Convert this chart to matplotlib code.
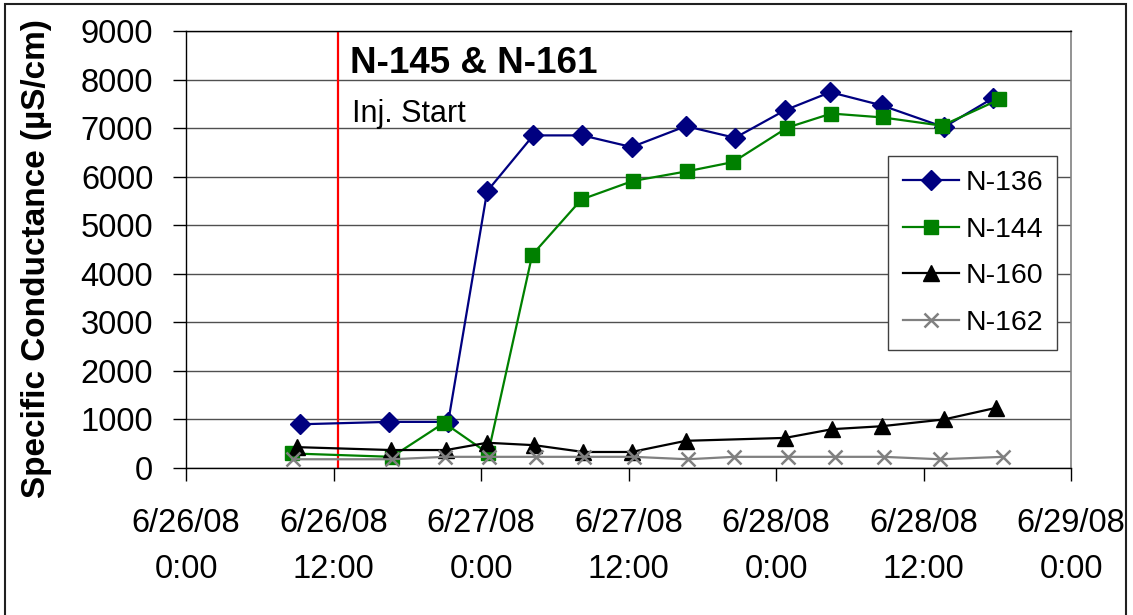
import matplotlib
matplotlib.use("Agg")
import matplotlib.pyplot as plt
import matplotlib.dates as mdates
from matplotlib.ticker import FuncFormatter, MultipleLocator
from matplotlib.patches import Rectangle
import pandas as pd

plt.rcParams['font.family'] = ['Liberation Sans', 'DejaVu Sans']

# ---- data ----
n136_times = ["2008-06-26 09:15", "2008-06-26 16:30", "2008-06-26 21:20", "2008-06-27 00:30",
              "2008-06-27 04:15", "2008-06-27 08:15", "2008-06-27 12:15", "2008-06-27 16:40",
              "2008-06-27 20:40", "2008-06-28 00:45", "2008-06-28 04:25", "2008-06-28 08:35",
              "2008-06-28 13:40", "2008-06-28 17:40"]
n136_vals = [900, 950, 950, 5700, 6850, 6850, 6610, 7040, 6800, 7370, 7740, 7470, 7020, 7620]

n144_times = ["2008-06-26 08:35", "2008-06-26 16:45", "2008-06-26 21:00", "2008-06-27 00:35",
              "2008-06-27 04:10", "2008-06-27 08:10", "2008-06-27 12:20", "2008-06-27 16:45",
              "2008-06-27 20:30", "2008-06-28 00:55", "2008-06-28 04:30", "2008-06-28 08:40",
              "2008-06-28 13:30", "2008-06-28 18:10"]
n144_vals = [300, 230, 930, 300, 4390, 5530, 5910, 6110, 6300, 7010, 7300, 7220, 7050, 7590]

n160_times = ["2008-06-26 09:00", "2008-06-26 16:40", "2008-06-26 21:10", "2008-06-27 00:30",
              "2008-06-27 04:20", "2008-06-27 08:20", "2008-06-27 12:15", "2008-06-27 16:40",
              "2008-06-28 00:45", "2008-06-28 04:35", "2008-06-28 08:35", "2008-06-28 13:40",
              "2008-06-28 17:55"]
n160_vals = [430, 370, 370, 520, 470, 330, 330, 560, 620, 800, 860, 1000, 1240]

n162_times = ["2008-06-26 08:40", "2008-06-26 16:45", "2008-06-26 21:05", "2008-06-27 00:40",
              "2008-06-27 04:30", "2008-06-27 08:25", "2008-06-27 12:25", "2008-06-27 16:50",
              "2008-06-27 20:35", "2008-06-28 01:00", "2008-06-28 04:50", "2008-06-28 08:45",
              "2008-06-28 13:20", "2008-06-28 18:30"]
n162_vals = [180, 180, 230, 230, 230, 230, 230, 180, 230, 230, 230, 230, 180, 230]

injection_start = "2008-06-26 12:20"
x_start, x_end = "2008-06-26 00:00", "2008-06-29 00:00"
title_text = "N-145 & N-161"
inj_text = "Inj. Start"
y_label = "Specific Conductance (µS/cm)"

# ---- figure ----
fig = plt.figure(figsize=(11.33, 6.15), dpi=100)
ax = fig.add_axes([186/1133, 1-468/615, (1071-186)/1133, (468-31)/615])

series = [
    ("N-136", n136_times, n136_vals, dict(color='#000080', marker='D', ms=10.5)),
    ("N-144", n144_times, n144_vals, dict(color='#008000', marker='s', ms=10.5)),
    ("N-160", n160_times, n160_vals, dict(color='#000000', marker='^', ms=11.5)),
    ("N-162", n162_times, n162_vals, dict(color='#808080', marker='x', ms=10.5, mew=1.8)),
]
for name, t, v, st in series:
    ax.plot(pd.to_datetime(t), v, label=name, lw=1.6, zorder=3, clip_on=False, **st)

ax.axvline(pd.to_datetime(injection_start), color='#ff0000', lw=1.6, zorder=2)

ax.set_xlim(pd.to_datetime(x_start), pd.to_datetime(x_end))
ax.set_ylim(0, 9000)
ax.yaxis.set_major_locator(MultipleLocator(1000))
ax.xaxis.set_major_locator(mdates.HourLocator(byhour=[0, 12]))

def fmt(x, pos):
    d = mdates.num2date(x)
    return f"{d.month}/{d.day}/{d.strftime('%y')}\n{d.hour}:{d.minute:02d}"
ax.xaxis.set_major_formatter(FuncFormatter(fmt))

ax.grid(axis='y', color='#505050', lw=1, zorder=1)
ax.set_axisbelow(True)
ax.tick_params(axis='both', direction='out', length=9.5, width=1, labelsize=23.5, color='#000000')
ax.tick_params(axis='x', pad=19)
ax.tick_params(axis='y', pad=14)
for lab in ax.get_xticklabels():
    lab.set_linespacing(1.65)

for s in ['left', 'bottom', 'top']:
    ax.spines[s].set_color('#000000')
    ax.spines[s].set_linewidth(1)
ax.spines['right'].set_color('#808080')
ax.spines['right'].set_linewidth(1.2)

fig.text(37/1133, 1-259/615, y_label, rotation=90, ha='center', va='center',
         fontsize=24, fontweight='bold')
fig.text(350/1133, 1-73/615, title_text, ha='left', va='baseline', fontsize=26.5, fontweight='bold')
fig.text(352/1133, 1-122/615, inj_text, ha='left', va='baseline', fontsize=22)

leg = ax.legend(loc='upper right', bbox_to_anchor=(1057/1133, 1-156/615),
                bbox_transform=fig.transFigure, borderaxespad=0, fontsize=20.5,
                frameon=True, fancybox=False, edgecolor='#404040', framealpha=1,
                handlelength=2.0, labelspacing=0.72, borderpad=0.5, handletextpad=0.2)
leg.get_frame().set_linewidth(1)

fig.patches.append(Rectangle((5/1133, -0.02), (1126-5)/1133, 1-4/615+0.02,
                             transform=fig.transFigure, fill=False, lw=1.5,
                             edgecolor='#202020'))

fig.savefig("out.png", dpi=100)
